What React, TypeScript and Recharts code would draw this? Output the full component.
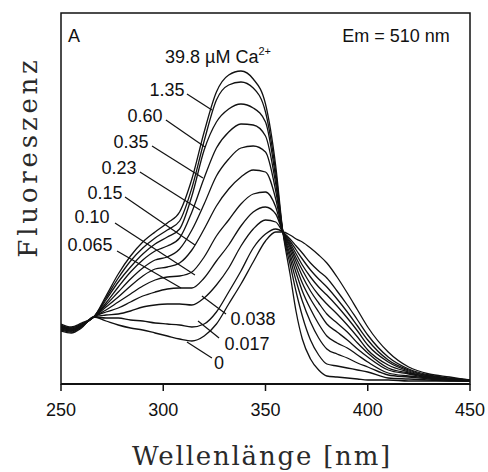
import { LineChart, Line, XAxis, YAxis, ReferenceArea, ReferenceLine, ReferenceDot } from "recharts";

// excitation wavelength (nm)
const wavelengths = [250, 255, 260, 266, 272, 278, 284, 290, 296, 302, 308, 314, 320, 326, 332, 338, 344, 350, 355, 358.5, 362, 365, 368, 372, 376, 380, 385, 390, 395, 400, 410, 420, 430, 440, 450];

// fluorescence (arbitrary units) for each free Ca2+ concentration (µM)
const ca0 = [53, 51, 56, 67, 63, 59, 56, 54, 51, 48, 45, 43, 48, 60, 80, 100, 122, 143, 152, 152, 149, 145, 142, 136, 129, 121, 107, 91, 74, 57, 32, 17, 10, 7, 4];
const ca017 = [54, 52, 57, 67, 66, 66, 64, 63, 61, 60, 59, 57, 60, 72, 92, 113, 136, 150, 155, 152, 145, 138, 131, 121, 113, 106, 93, 79, 64, 49, 27, 15, 9, 6, 4];
const ca038 = [55, 53, 57, 67, 69, 70, 73, 77, 79, 80, 80, 79, 86, 99, 116, 138, 155, 164, 162, 152, 143, 134, 125, 114, 105, 97, 85, 72, 58, 44, 24, 14, 8, 5, 4];
const ca065 = [55, 53, 58, 67, 72, 76, 82, 88, 92, 95, 96, 96, 106, 123, 139, 158, 172, 177, 170, 152, 141, 130, 119, 107, 97, 89, 78, 66, 53, 39, 22, 13, 8, 5, 4];
const ca10 = [56, 54, 58, 67, 74, 82, 90, 98, 104, 107, 108, 112, 127, 148, 164, 180, 190, 192, 177, 152, 139, 126, 114, 100, 89, 80, 70, 59, 47, 34, 19, 12, 7, 5, 4];
const ca15 = [57, 54, 59, 67, 77, 87, 98, 108, 115, 117, 121, 134, 155, 178, 195, 207, 214, 212, 185, 152, 137, 122, 108, 93, 81, 70, 61, 52, 41, 31, 16, 11, 7, 5, 4];
const ca23 = [57, 55, 59, 67, 79, 92, 105, 116, 124, 127, 135, 154, 180, 208, 225, 236, 238, 232, 193, 152, 134, 117, 101, 85, 72, 60, 52, 44, 35, 27, 14, 10, 6, 4, 3];
const ca35 = [58, 55, 59, 67, 81, 97, 112, 124, 133, 138, 146, 172, 206, 236, 252, 260, 259, 248, 200, 152, 130, 111, 93, 75, 60, 48, 41, 36, 29, 22, 11, 8, 6, 4, 3];
const ca60 = [58, 56, 60, 67, 84, 102, 117, 130, 140, 147, 155, 188, 234, 262, 275, 280, 276, 262, 206, 152, 126, 103, 83, 62, 46, 35, 30, 26, 21, 17, 9, 7, 5, 4, 3];
const ca135 = [59, 56, 60, 67, 86, 106, 123, 136, 146, 154, 163, 196, 243, 284, 299, 302, 296, 272, 212, 152, 120, 92, 68, 44, 29, 20, 18, 16, 14, 12, 6, 5, 4, 3, 3];
const ca398 = [60, 57, 61, 67, 88, 110, 128, 142, 152, 161, 172, 205, 252, 292, 309, 313, 305, 280, 218, 152, 110, 72, 45, 25, 14, 8, 7, 6, 5, 4, 4, 3, 3, 3, 3];

const seriesKeys = ["c0", "c017", "c038", "c065", "c10", "c15", "c23", "c35", "c60", "c135", "c398"];
const seriesValues = [ca0, ca017, ca038, ca065, ca10, ca15, ca23, ca35, ca60, ca135, ca398];

const xTicks = [250, 300, 350, 400, 450];

const chartData = wavelengths.map((nm, i) => {
  const row: Record<string, number> = { nm };
  seriesKeys.forEach((k, j) => {
    row[k] = seriesValues[j][i];
  });
  return row;
});

const SANS = "'Liberation Sans', Arial, Helvetica, sans-serif";
const SERIF = "'DejaVu Serif', serif";
const INK = "#111";

// curve labels: text centre and leader line, in data units (nm, fluorescence)
const curveLabels = [
  { text: "1.35", at: [301.8, 294], from: [311.6, 290], to: [323.8, 274] },
  { text: "0.60", at: [291.1, 268], from: [301.3, 264], to: [320.4, 237] },
  { text: "0.35", at: [284.2, 242], from: [294.5, 238], to: [319.4, 206] },
  { text: "0.23", at: [278.4, 216], from: [288.6, 212], to: [318.0, 174] },
  { text: "0.15", at: [271.5, 191], from: [281.3, 187], to: [315.5, 139] },
  { text: "0.10", at: [265.2, 167], from: [276.4, 161], to: [315.5, 109] },
  { text: "0.065", at: [264.2, 139], from: [277.4, 133], to: [308.7, 96] },
  { text: "0.038", at: [343.9, 65], from: [330.7, 70], to: [318.9, 88] },
  { text: "0.017", at: [341.0, 40], from: [327.3, 46], to: [317.0, 63] },
  { text: "0", at: [327.3, 21], from: [323.8, 26], to: [311.6, 42] },
];

function textAt(text: string, anchor: "start" | "middle" | "end" = "middle") {
  return (props: any) => {
    const { x, y } = props.viewBox;
    return (
      <text x={x} y={y} dy="0.35em" textAnchor={anchor} fontFamily={SANS} fontSize={18} fill={INK}>
        {text}
      </text>
    );
  };
}

const caTitle = (props: any) => {
  const { x, y } = props.viewBox;
  return (
    <text x={x} y={y} dy="0.35em" textAnchor="start" fontFamily={SANS} fontSize={18} fill={INK}>
      <tspan>39.8 µM Ca</tspan>
      <tspan dy={-8} fontSize={11}>2+</tspan>
    </text>
  );
};

const xTitle = () => (
  <text x={262} y={465} textAnchor="middle" fontFamily={SERIF} fontSize={26} letterSpacing={1.8} fill="#2a2a2a">
    Wellenlänge [nm]
  </text>
);

const yTitle = () => (
  <text transform="translate(37,157) rotate(-90)" textAnchor="middle" fontFamily={SERIF} fontSize={26} letterSpacing={3.8} fill="#2a2a2a">
    Fluoreszenz
  </text>
);

export default function App() {
  return (
    <div style={{ position: "absolute", left: 0, top: 0, background: "#fff" }}>
      <LineChart width={488} height={472} data={chartData} margin={{ top: 13, right: 18, bottom: 0, left: 0 }}>
        <XAxis
          dataKey="nm"
          type="number"
          domain={[250, 450]}
          ticks={xTicks}
          interval={0}
          height={88}
          tickSize={7}
          tickMargin={12}
          allowDataOverflow
          tick={{ fontSize: 18, fontFamily: SANS, fill: INK }}
          axisLine={{ stroke: INK, strokeWidth: 1.8 }}
          tickLine={{ stroke: INK, strokeWidth: 1.5 }}
          label={xTitle}
        />
        <YAxis width={61} type="number" domain={[0, 371]} allowDataOverflow tick={false} tickLine={false} axisLine={false} label={yTitle} />
        <ReferenceArea x1={250} x2={450} y1={0} y2={371} fill="none" fillOpacity={0} stroke={INK} strokeWidth={1.5} ifOverflow="visible" />
        {seriesKeys.map((k) => (
          <Line key={k} dataKey={k} type="monotone" stroke={INK} strokeWidth={1.3} dot={false} isAnimationActive={false} />
        ))}
        {curveLabels.map((c) => (
          <ReferenceLine
            key={"l" + c.text}
            segment={[
              { x: c.from[0], y: c.from[1] },
              { x: c.to[0], y: c.to[1] },
            ]}
            stroke={INK}
            strokeWidth={1.2}
            ifOverflow="visible"
          />
        ))}
        {curveLabels.map((c) => (
          <ReferenceDot key={"t" + c.text} x={c.at[0]} y={c.at[1]} r={0} fill="none" stroke="none" ifOverflow="visible" label={textAt(c.text)} />
        ))}
        <ReferenceDot x={256.4} y={348} r={0} fill="none" stroke="none" label={textAt("A")} />
        <ReferenceDot x={413.8} y={348} r={0} fill="none" stroke="none" label={textAt("Em = 510 nm")} />
        <ReferenceDot x={300.9} y={327} r={0} fill="none" stroke="none" label={caTitle} />
      </LineChart>
    </div>
  );
}
